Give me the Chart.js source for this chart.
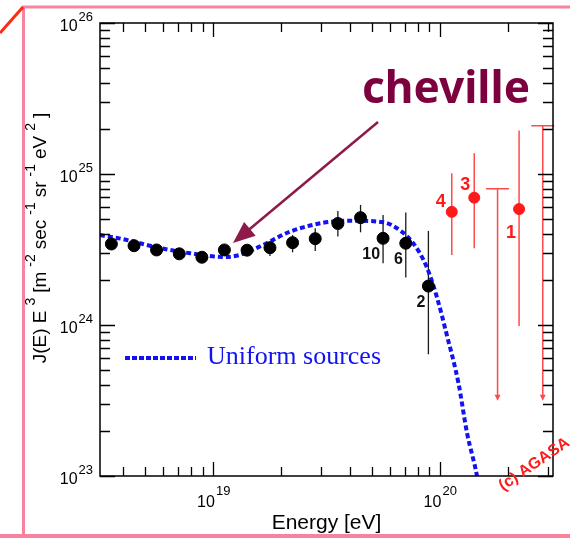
<!DOCTYPE html>
<html>
<head>
<meta charset="utf-8">
<title>AGASA spectrum - cheville</title>
<script src="https://cdn.jsdelivr.net/npm/chart.js@4.4.1/dist/chart.umd.min.js"></script>
<style>
  html, body { margin: 0; padding: 0; background: #fff; }
  #wrap { width: 570px; height: 538px; }
</style>
</head>
<body>
<div id="wrap"><canvas id="chart" width="570" height="538"></canvas></div>
<script>
// AGASA bins: energy (eV) and E^3 J(E)
const energies = [3.55e18, 4.47e18, 5.62e18, 7.08e18, 8.91e18, 1.12e19, 1.41e19, 1.78e19,
                  2.24e19, 2.82e19, 3.55e19, 4.47e19, 5.62e19, 7.08e19, 8.91e19];
const flux   = [3.44e24, 3.35e24, 3.14e24, 2.96e24, 2.81e24, 3.14e24, 3.13e24, 3.25e24,
                3.51e24, 3.73e24, 4.70e24, 5.14e24, 3.75e24, 3.48e24, 1.81e24];
const fluxLo = [3.28e24, 3.19e24, 2.99e24, 2.82e24, 2.67e24, 2.99e24, 2.91e24, 2.86e24,
                3.03e24, 3.09e24, 3.85e24, 4.11e24, 2.56e24, 2.06e24, 6.40e23];
const fluxHi = [3.60e24, 3.51e24, 3.30e24, 3.11e24, 2.95e24, 3.30e24, 3.38e24, 3.56e24,
                3.94e24, 4.37e24, 5.69e24, 6.24e24, 5.35e24, 5.57e24, 4.20e24];
const eventCounts = ['', '', '', '', '', '', '', '', '', '', '', '', '10', '6', '2'];

// highest energy bins (red)
const hiEnergies = [1.13e20, 1.42e20, 2.24e20];
const hiFlux     = [5.62e24, 6.97e24, 5.86e24];
const hiFluxLo   = [2.91e24, 3.22e24, 9.84e23];
const hiFluxHi   = [1.01e25, 1.37e25, 1.94e25];
const hiCounts   = ['4', '3', '1'];

// upper limits (red arrows)
const limEnergies = [1.80e20, 2.85e20];
const limFlux     = [8.00e24, 2.09e25];
const limArrowTo  = [3.2e23, 3.2e23];

// model: uniform sources
const modelE = [3.16e18, 4.01e18, 5.62e18, 7.89e18, 1.11e19, 1.31e19, 1.66e19, 2.18e19,
                3.06e19, 4.02e19, 5.64e19, 6.79e19, 7.64e19, 8.75e19, 9.70e19, 1.07e20,
                1.21e20, 1.32e20, 1.46e20, 1.54e20];
const modelF = [3.94e24, 3.70e24, 3.27e24, 2.99e24, 2.82e24, 2.91e24, 3.39e24, 4.15e24,
                4.75e24, 4.91e24, 4.79e24, 4.15e24, 3.48e24, 2.43e24, 1.54e24, 8.81e23,
                4.11e23, 1.92e23, 1.00e23, 5.96e22];

// axes
const X_MIN = Math.pow(10, 18.5), X_MAX = Math.pow(10, 20.5);
const Y_MIN = 1e23, Y_MAX = 1e26;
const xTickPowers = [19, 20];
const yTickPowers = [23, 24, 25, 26];

const BLUE = '#1212f2';
const RED = '#ff1a1a';
const RED_LINE = '#ff4a4a';
const MAROON = '#7d003f';
const PINK = '#f7839f';
const SANS = "'Liberation Sans', Arial, sans-serif";

function eachLogTick(min, max, cb) {
  for (let d = Math.floor(Math.log10(min)); d <= Math.ceil(Math.log10(max)); d++) {
    for (let m = 1; m <= 9; m++) {
      const v = m * Math.pow(10, d);
      if (v < min * 0.999 || v > max * 1.001) continue;
      cb(v, m === 1);
    }
  }
}

// page frame (pink) behind everything
const pageFrame = {
  id: 'pageFrame',
  beforeDraw(chart) {
    const c = chart.ctx;
    c.save();
    c.fillStyle = '#fff';
    c.fillRect(0, 0, chart.width, chart.height);
    c.strokeStyle = PINK;
    c.lineWidth = 3;
    c.beginPath();
    c.moveTo(570, 7); c.lineTo(23.5, 7); c.lineTo(23.5, 538);
    c.stroke();
    c.lineWidth = 4;
    c.beginPath();
    c.moveTo(0, 536); c.lineTo(570, 536);
    c.stroke();
    c.strokeStyle = '#ff2a10';
    c.lineWidth = 3;
    c.beginPath();
    c.moveTo(0, 33); c.lineTo(23, 7);
    c.stroke();
    c.restore();
  }
};

// error bars + upper limits
const errorBars = {
  id: 'errorBars',
  beforeDatasetsDraw(chart) {
    const c = chart.ctx, xs = chart.scales.x, ys = chart.scales.y;
    c.save();
    c.lineWidth = 1.3;
    c.strokeStyle = '#1a1a1a';
    energies.forEach((e, i) => {
      const x = xs.getPixelForValue(e);
      c.beginPath();
      c.moveTo(x, ys.getPixelForValue(fluxHi[i]));
      c.lineTo(x, ys.getPixelForValue(fluxLo[i]));
      c.stroke();
    });
    c.strokeStyle = RED_LINE;
    c.lineWidth = 1.5;
    hiEnergies.forEach((e, i) => {
      const x = xs.getPixelForValue(e);
      c.beginPath();
      c.moveTo(x, ys.getPixelForValue(hiFluxHi[i]));
      c.lineTo(x, ys.getPixelForValue(hiFluxLo[i]));
      c.stroke();
    });
    // upper limits
    limEnergies.forEach((e, i) => {
      const x = xs.getPixelForValue(e);
      const yt = ys.getPixelForValue(limFlux[i]);
      const yb = ys.getPixelForValue(limArrowTo[i]);
      c.strokeStyle = RED_LINE;
      c.beginPath();
      c.moveTo(x - 11.5, yt); c.lineTo(x + 11.5, yt);
      c.moveTo(x, yt); c.lineTo(x, yb - 4);
      c.stroke();
      c.fillStyle = RED_LINE;
      c.beginPath();
      c.moveTo(x, yb + 1);
      c.lineTo(x - 3, yb - 5);
      c.lineTo(x + 3, yb - 5);
      c.closePath();
      c.fill();
    });
    c.restore();
  }
};

// box, inward ticks, tick labels, titles, notes
const axesAndNotes = {
  id: 'axesAndNotes',
  afterDatasetsDraw(chart) {
    const c = chart.ctx, xs = chart.scales.x, ys = chart.scales.y;
    const { left, right, top, bottom } = chart.chartArea;
    c.save();
    c.strokeStyle = '#000';
    c.lineWidth = 1.5;
    c.strokeRect(left, top, right - left, bottom - top);

    c.lineWidth = 1.3;
    c.beginPath();
    eachLogTick(X_MIN, X_MAX, (v, major) => {
      const x = Math.round(xs.getPixelForValue(v)) + 0.5;
      const len = major ? 14 : 9;
      c.moveTo(x, bottom); c.lineTo(x, bottom - len);
      c.moveTo(x, top); c.lineTo(x, top + len);
    });
    eachLogTick(Y_MIN, Y_MAX, (v, major) => {
      const y = Math.round(ys.getPixelForValue(v)) + 0.5;
      const len = major ? 15 : 10;
      c.moveTo(left, y); c.lineTo(left + len, y);
      c.moveTo(right, y); c.lineTo(right - len, y);
    });
    c.stroke();

    // tick labels 10^n
    c.fillStyle = '#000';
    c.textBaseline = 'alphabetic';
    xTickPowers.forEach(p => {
      const x = xs.getPixelForValue(Math.pow(10, p));
      c.font = '16px ' + SANS;
      const w1 = c.measureText('10').width;
      c.font = '13px ' + SANS;
      const w2 = c.measureText(String(p)).width;
      const x0 = x - (w1 + w2) / 2;
      c.textAlign = 'left';
      c.font = '16px ' + SANS;
      c.fillText('10', x0, bottom + 31);
      c.font = '13px ' + SANS;
      c.fillText(String(p), x0 + w1 + 1, bottom + 19);
    });
    yTickPowers.forEach(p => {
      const y = ys.getPixelForValue(Math.pow(10, p));
      c.font = '13px ' + SANS;
      const w2 = c.measureText(String(p)).width;
      c.textAlign = 'right';
      c.fillText(String(p), left - 7, y - 2);
      c.font = '16px ' + SANS;
      c.fillText('10', left - 8 - w2, y + 8);
    });

    // x title
    c.textAlign = 'center';
    c.font = '21px ' + SANS;
    c.fillText('Energy [eV]', (left + right) / 2, 529);

    // y title with superscripts
    const parts = [['J(E) E', 0], ['3', 1], ['[m', 0], ['-2', 1], ['sec', 0], ['-1', 1],
                   ['sr', 0], ['-1', 1], ['eV', 0], ['2', 1], [']', 0]];
    const gap = 5;
    const widths = parts.map(([t, sup]) => {
      c.font = (sup ? '14px ' : '19px ') + SANS;
      return c.measureText(t).width;
    });
    const total = widths.reduce((a, b) => a + b, 0) + gap * (parts.length - 1);
    c.translate(46, 238);
    c.rotate(-Math.PI / 2);
    c.textAlign = 'left';
    let cx = -total / 2;
    parts.forEach(([t, sup], i) => {
      c.font = (sup ? '14px ' : '19px ') + SANS;
      c.fillText(t, cx, sup ? -11 : 0);
      cx += widths[i] + gap;
    });
    c.setTransform(1, 0, 0, 1, 0, 0);

    // event counts near points
    const meta = chart.getDatasetMeta(1);
    c.font = 'bold 16px ' + SANS;
    c.textAlign = 'right';
    c.fillStyle = '#111';
    eventCounts.forEach((t, i) => {
      if (!t) return;
      const pt = meta.data[i];
      c.fillText(t, pt.x - 3, pt.y + 21);
    });
    const hiMeta = chart.getDatasetMeta(2);
    const hiOffsets = [[-6, -5], [-4, -8], [-3, 29]];
    c.font = 'bold 18px ' + SANS;
    c.fillStyle = RED;
    hiCounts.forEach((t, i) => {
      const pt = hiMeta.data[i];
      c.fillText(t, pt.x + hiOffsets[i][0], pt.y + hiOffsets[i][1]);
    });

    // legend
    c.strokeStyle = BLUE;
    c.lineWidth = 4;
    c.setLineDash([5, 2]);
    c.beginPath();
    c.moveTo(125, 358); c.lineTo(196, 358);
    c.stroke();
    c.setLineDash([]);
    c.fillStyle = BLUE;
    c.textAlign = 'left';
    c.font = "26px 'Liberation Serif', 'Times New Roman', serif";
    c.fillText('Uniform sources', 207, 364);

    // cheville + arrow
    c.fillStyle = MAROON;
    c.font = "bold 45px 'Comic Sans MS', 'Noto Sans', sans-serif";
    c.fillText('cheville', 362, 103, 168);
    const ax0 = 378, ay0 = 122, ax1 = 233, ay1 = 243;
    const ang = Math.atan2(ay1 - ay0, ax1 - ax0);
    c.strokeStyle = '#8c1a4b';
    c.fillStyle = '#8c1a4b';
    c.lineWidth = 2.5;
    c.beginPath();
    c.moveTo(ax0, ay0);
    c.lineTo(ax1 - 16 * Math.cos(ang), ay1 - 16 * Math.sin(ang));
    c.stroke();
    c.beginPath();
    c.moveTo(ax1, ay1);
    c.lineTo(ax1 - 22 * Math.cos(ang) + 9 * Math.sin(ang), ay1 - 22 * Math.sin(ang) - 9 * Math.cos(ang));
    c.lineTo(ax1 - 22 * Math.cos(ang) - 9 * Math.sin(ang), ay1 - 22 * Math.sin(ang) + 9 * Math.cos(ang));
    c.closePath();
    c.fill();

    // copyright
    c.translate(503, 491);
    c.rotate(-0.6);
    c.fillStyle = RED;
    c.font = 'bold 16px ' + SANS;
    c.fillText('(c) AGASA', 0, 0);
    c.restore();
  }
};

new Chart(document.getElementById('chart'), {
  type: 'scatter',
  data: {
    datasets: [
      {
        label: 'Uniform sources',
        type: 'line',
        data: modelE.map((e, i) => ({ x: e, y: modelF[i] })),
        borderColor: BLUE,
        borderWidth: 4,
        borderDash: [5, 3],
        pointRadius: 0,
        fill: false,
        cubicInterpolationMode: 'monotone',
        clip: 0,
        order: 2
      },
      {
        label: 'AGASA',
        data: energies.map((e, i) => ({ x: e, y: flux[i] })),
        backgroundColor: '#000',
        borderColor: '#000',
        pointRadius: 6,
        order: 1
      },
      {
        label: 'AGASA highest',
        data: hiEnergies.map((e, i) => ({ x: e, y: hiFlux[i] })),
        backgroundColor: RED,
        borderColor: RED,
        pointRadius: 5.5,
        order: 1
      }
    ]
  },
  options: {
    responsive: false,
    animation: false,
    layout: { padding: { left: 100, top: 23, right: 17, bottom: 62 } },
    scales: {
      x: { type: 'logarithmic', min: X_MIN, max: X_MAX, display: false },
      y: { type: 'logarithmic', min: Y_MIN, max: Y_MAX, display: false }
    },
    plugins: { legend: { display: false }, tooltip: { enabled: false } }
  },
  plugins: [pageFrame, errorBars, axesAndNotes]
});
</script>
</body>
</html>
